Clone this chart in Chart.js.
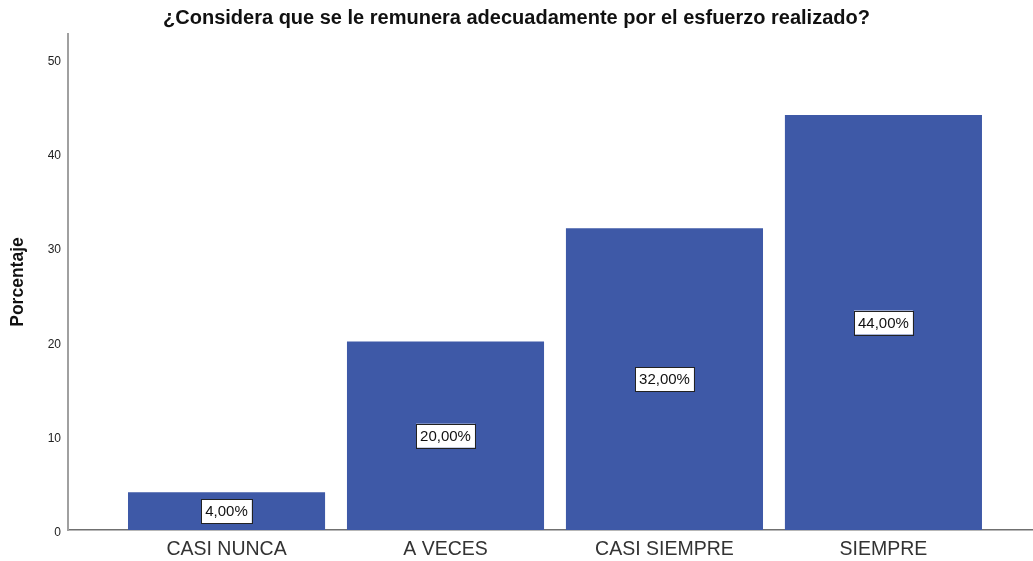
<!DOCTYPE html>
<html>
<head>
<meta charset="utf-8">
<script src="https://cdn.jsdelivr.net/npm/chart.js@4.4.0/dist/chart.umd.min.js"></script>
<style>
  body { margin: 0; background: #fff; }
  canvas { display: block; }
</style>
</head>
<body>
<canvas id="mainChart" width="1033" height="561"></canvas>
<script>
const categories = ['CASI NUNCA', 'A VECES', 'CASI SIEMPRE', 'SIEMPRE'];
const percentages = [4, 20, 32, 44];
const yTicks = [0, 10, 20, 30, 40, 50];

const FONT = "'Liberation Sans', Arial, sans-serif";

// white boxes with the percentage in the middle of each bar
const valueBoxes = {
    id: 'valueBoxes',
    afterDatasetsDraw(chart) {
        const ctx = chart.ctx;
        const meta = chart.getDatasetMeta(0);
        ctx.save();
        ctx.font = '15px ' + FONT;
        ctx.textAlign = 'center';
        ctx.textBaseline = 'middle';
        meta.data.forEach((bar, i) => {
            const text = percentages[i].toFixed(2).replace('.', ',') + '%';
            const w = ctx.measureText(text).width + 8;
            const h = 24;
            const cx = bar.x;
            const cy = (bar.y + bar.base) / 2;
            ctx.fillStyle = '#ffffff';
            ctx.fillRect(cx - w / 2, cy - h / 2, w, h);
            ctx.strokeStyle = '#222';
            ctx.lineWidth = 1;
            ctx.strokeRect(Math.round(cx - w / 2) + 0.5, Math.round(cy - h / 2) + 0.5, Math.round(w), h);
            ctx.fillStyle = '#111';
            ctx.fillText(text, cx, cy + 1);
        });
        ctx.restore();
    }
};

new Chart(document.getElementById('mainChart'), {
    type: 'bar',
    data: {
        datasets: [{
            data: percentages.map((v, i) => ({ x: i, y: v })),
            backgroundColor: '#3e59a7',
            borderWidth: 0,
            categoryPercentage: 1,
            barPercentage: 0.9
        }]
    },
    plugins: [valueBoxes],
    options: {
        responsive: false,
        animation: false,
        layout: { padding: { left: 0, right: 0, top: 0, bottom: 0 } },
        plugins: {
            legend: { display: false },
            tooltip: { enabled: false },
            title: {
                display: true,
                text: '¿Considera que se le remunera adecuadamente por el esfuerzo realizado?',
                color: '#111',
                font: { family: FONT, size: 20, weight: 'bold' },
                padding: { top: 6, bottom: 4 }
            }
        },
        scales: {
            x: {
                type: 'linear',
                offset: false,
                min: -0.724,
                max: 3.683,
                grid: { display: false, drawTicks: false },
                border: { display: true, color: '#707070', width: 1.5 },
                afterFit(scale) { scale.height = 31; },
                ticks: {
                    stepSize: 1,
                    includeBounds: false,
                    autoSkip: false,
                    maxRotation: 0,
                    padding: 8,
                    color: '#333',
                    font: { family: FONT, size: 19.5 },
                    callback: (v) => Number.isInteger(v) && categories[v] ? categories[v] : ''
                }
            },
            y: {
                min: 0,
                max: 52.6,
                grid: { display: false, drawTicks: false },
                border: { display: true, color: '#a0a0a0', width: 2 },
                afterFit(scale) { scale.width = 68; },
                afterBuildTicks(scale) { scale.ticks = yTicks.map(v => ({ value: v })); },
                ticks: {
                    includeBounds: false,
                    padding: 7,
                    labelOffset: 3,
                    color: '#222',
                    font: { family: FONT, size: 12 }
                },
                title: {
                    display: true,
                    text: 'Porcentaje',
                    color: '#111',
                    font: { family: FONT, size: 17.5, weight: 'bold' },
                    padding: { top: 8, bottom: 0 }
                }
            }
        }
    }
});
</script>
</body>
</html>
